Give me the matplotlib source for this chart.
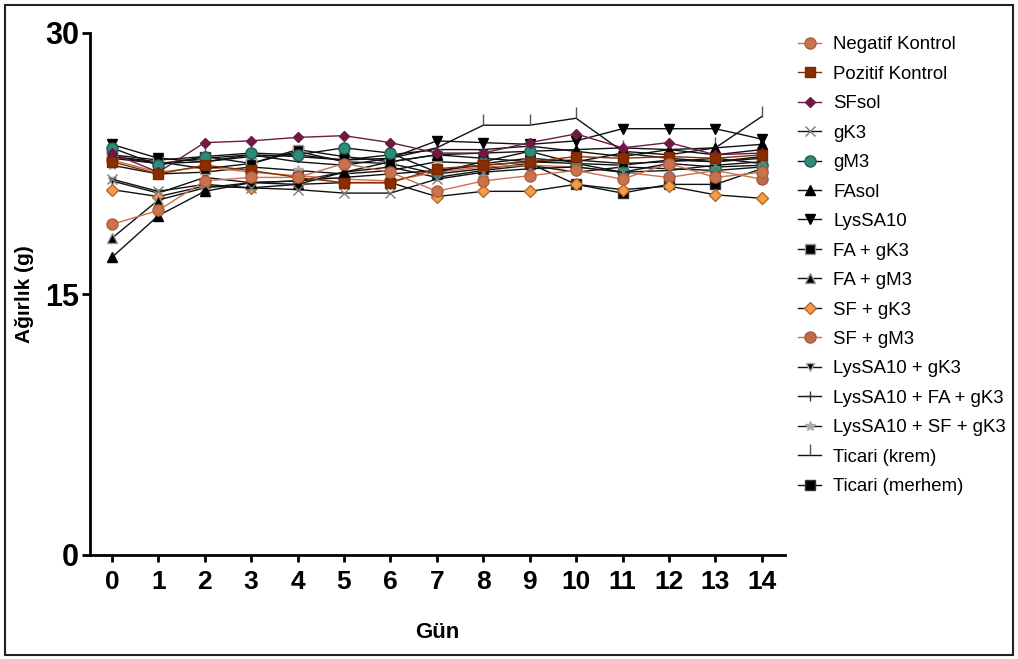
import matplotlib
matplotlib.use("Agg")
import matplotlib.pyplot as plt
from matplotlib.patches import Rectangle

days = list(range(15))

negatif_kontrol = [19.0, 19.8, 21.5, 21.7, 21.7, 22.5, 22.0, 20.9, 21.5, 21.8, 22.1, 21.6, 22.5, 21.7, 22.0]
pozitif_kontrol = [22.6, 21.9, 22.4, 22.1, 21.7, 21.4, 21.4, 22.2, 22.4, 22.6, 22.9, 22.8, 22.9, 22.8, 23.0]
sfsol = [23.1, 22.0, 23.7, 23.8, 24.0, 24.1, 23.7, 23.1, 23.1, 23.7, 24.2, 23.4, 23.7, 23.0, 23.1]
gk3 = [21.6, 20.9, 21.3, 21.1, 21.0, 20.8, 20.8, 21.6, 22.0, 22.2, 22.3, 22.0, 22.1, 22.4, 22.6]
gm3 = [23.4, 22.4, 22.9, 23.1, 23.0, 23.4, 23.1, 22.0, 22.6, 23.2, 22.5, 22.0, 22.5, 22.3, 22.4]
fasol = [17.1, 19.5, 20.9, 21.4, 21.3, 22.0, 22.6, 23.0, 23.1, 23.2, 23.3, 23.4, 23.3, 23.4, 23.6]
lyssa10 = [23.6, 22.8, 22.6, 23.0, 22.9, 22.7, 22.8, 23.8, 23.7, 23.6, 23.8, 24.5, 24.5, 24.5, 23.9]
fa_gk3 = [22.9, 22.6, 22.2, 22.5, 23.3, 22.9, 22.6, 23.0, 22.8, 22.6, 22.7, 22.5, 22.6, 22.8, 22.5]
fa_gm3 = [18.2, 20.4, 21.1, 21.4, 21.5, 21.7, 21.9, 22.1, 22.4, 22.6, 22.5, 22.4, 22.7, 22.6, 22.8]
sf_gk3 = [21.0, 20.6, 21.2, 21.1, 21.3, 21.4, 21.4, 20.6, 20.9, 20.9, 21.3, 21.0, 21.2, 20.7, 20.5]
sf_gm3 = [22.7, 22.0, 22.3, 22.0, 21.8, 21.6, 21.5, 22.0, 22.3, 22.4, 22.3, 22.0, 21.7, 22.1, 21.6]
lyssa10_gk3 = [21.5, 20.8, 21.7, 21.4, 21.5, 22.0, 22.3, 21.7, 22.1, 22.4, 22.0, 22.3, 22.2, 22.1, 22.3]
lyssa10_fa_gk3 = [22.8, 22.5, 22.6, 22.9, 23.0, 22.7, 23.0, 23.3, 23.3, 23.5, 23.2, 22.9, 23.3, 23.0, 23.3]
lyssa10_sf_gk3 = [22.4, 21.9, 22.0, 22.3, 22.1, 21.9, 22.1, 22.6, 22.5, 22.8, 22.6, 23.1, 22.8, 22.6, 22.9]
ticari_krem = [22.9, 22.5, 22.8, 23.0, 22.6, 22.4, 22.8, 23.4, 24.7, 24.7, 25.1, 23.2, 23.0, 23.4, 25.2]
ticari_merhem = [23.0, 22.7, 22.9, 22.5, 23.2, 22.6, 22.5, 21.9, 22.2, 22.5, 21.3, 20.8, 21.3, 21.3, 22.2]

series_labels = [
    "Negatif Kontrol", "Pozitif Kontrol", "SFsol", "gK3", "gM3", "FAsol", "LysSA10",
    "FA + gK3", "FA + gM3", "SF + gK3", "SF + gM3", "LysSA10 + gK3",
    "LysSA10 + FA + gK3", "LysSA10 + SF + gK3", "Ticari (krem)", "Ticari (merhem)",
]
series_values = [
    negatif_kontrol, pozitif_kontrol, sfsol, gk3, gm3, fasol, lyssa10,
    fa_gk3, fa_gm3, sf_gk3, sf_gm3, lyssa10_gk3,
    lyssa10_fa_gk3, lyssa10_sf_gk3, ticari_krem, ticari_merhem,
]

# (marker, face colour, edge colour, line colour, marker size)
styles = [
    ("o", "#C8724F", "#B0603F", "#C8724F", 8.0),
    ("s", "#8A2E00", "#7A2800", "#8A2E00", 7.5),
    ("D", "#6E1A45", "#6E1A45", "#6E1A45", 5.5),
    ("x", "#7A7A7A", "#7A7A7A", "#111111", 7.0),
    ("o", "#2E8B78", "#1F5E52", "#111111", 8.0),
    ("^", "#000000", "#000000", "#111111", 7.0),
    ("v", "#000000", "#000000", "#111111", 7.5),
    ("s", "#000000", "#9A9A9A", "#111111", 7.0),
    ("^", "#000000", "#9A9A9A", "#111111", 7.0),
    ("D", "#F39C4A", "#B06A2A", "#111111", 6.0),
    ("o", "#BE6A4D", "#A85A40", "#C8724F", 8.0),
    ("v", "#000000", "#AAAAAA", "#111111", 6.0),
    ("+", "#333333", "#333333", "#111111", 7.0),
    ("*", "#AAAAAA", "#AAAAAA", "#111111", 7.0),
    (2, "#555555", "#555555", "#111111", 8.0),
    ("s", "#000000", "#333333", "#111111", 7.5),
]

fig = plt.figure(figsize=(10.18, 6.59), dpi=100)
ax = fig.add_axes([90 / 1018, 1 - 555 / 659, (785 - 90) / 1018, (555 - 33) / 659])

n = len(series_values)
for i, (lab, vals, st) in enumerate(zip(series_labels, series_values, styles)):
    mk, fc, ec, lc, ms = st
    ax.plot(days, vals, color=lc, lw=1.0, marker=mk, markersize=ms,
            markerfacecolor=fc, markeredgecolor=ec, markeredgewidth=1.0,
            label=lab, zorder=3 + (n - i) * 0.1, clip_on=False)

ax.set_xlim(-0.47, 14.5)
ax.set_ylim(0, 30)
ax.set_yticks([0, 15, 30])
ax.set_xticks(days)

for s in ("top", "right"):
    ax.spines[s].set_visible(False)
for s in ("left", "bottom"):
    ax.spines[s].set_linewidth(2.0)

ax.tick_params(axis="y", direction="out", length=6, width=2, pad=2)
ax.tick_params(axis="x", direction="out", length=5, width=2, pad=6)

for t in ax.get_yticklabels():
    t.set_fontfamily(["Liberation Sans", "DejaVu Sans"])
    t.set_fontweight("bold")
    t.set_fontsize(22)
for t in ax.get_xticklabels():
    t.set_fontfamily(["Liberation Sans", "DejaVu Sans"])
    t.set_fontweight("bold")
    t.set_fontsize(19)

ax.set_xlabel("Gün", fontsize=16, fontweight="bold",
              family=["Liberation Sans", "DejaVu Sans"], labelpad=20)
ax.set_ylabel("Ağırlık (g)", fontsize=15, fontweight="bold",
              family=["Liberation Sans", "DejaVu Sans"], labelpad=8)

leg = fig.legend(loc="upper left", bbox_to_anchor=(798 / 1018, 1 - 36 / 659),
                 frameon=False, prop={"family": ["Liberation Sans", "DejaVu Sans"], "size": 13.4},
                 handlelength=1.25, handletextpad=0.65, labelspacing=0.67,
                 borderaxespad=0, borderpad=0)

fig.patches.append(Rectangle((5 / 1018, 4 / 659), 1008 / 1018, 650 / 659,
                             transform=fig.transFigure, fill=False,
                             edgecolor="#222222", linewidth=1.5))

fig.savefig("out.png", dpi=100)
